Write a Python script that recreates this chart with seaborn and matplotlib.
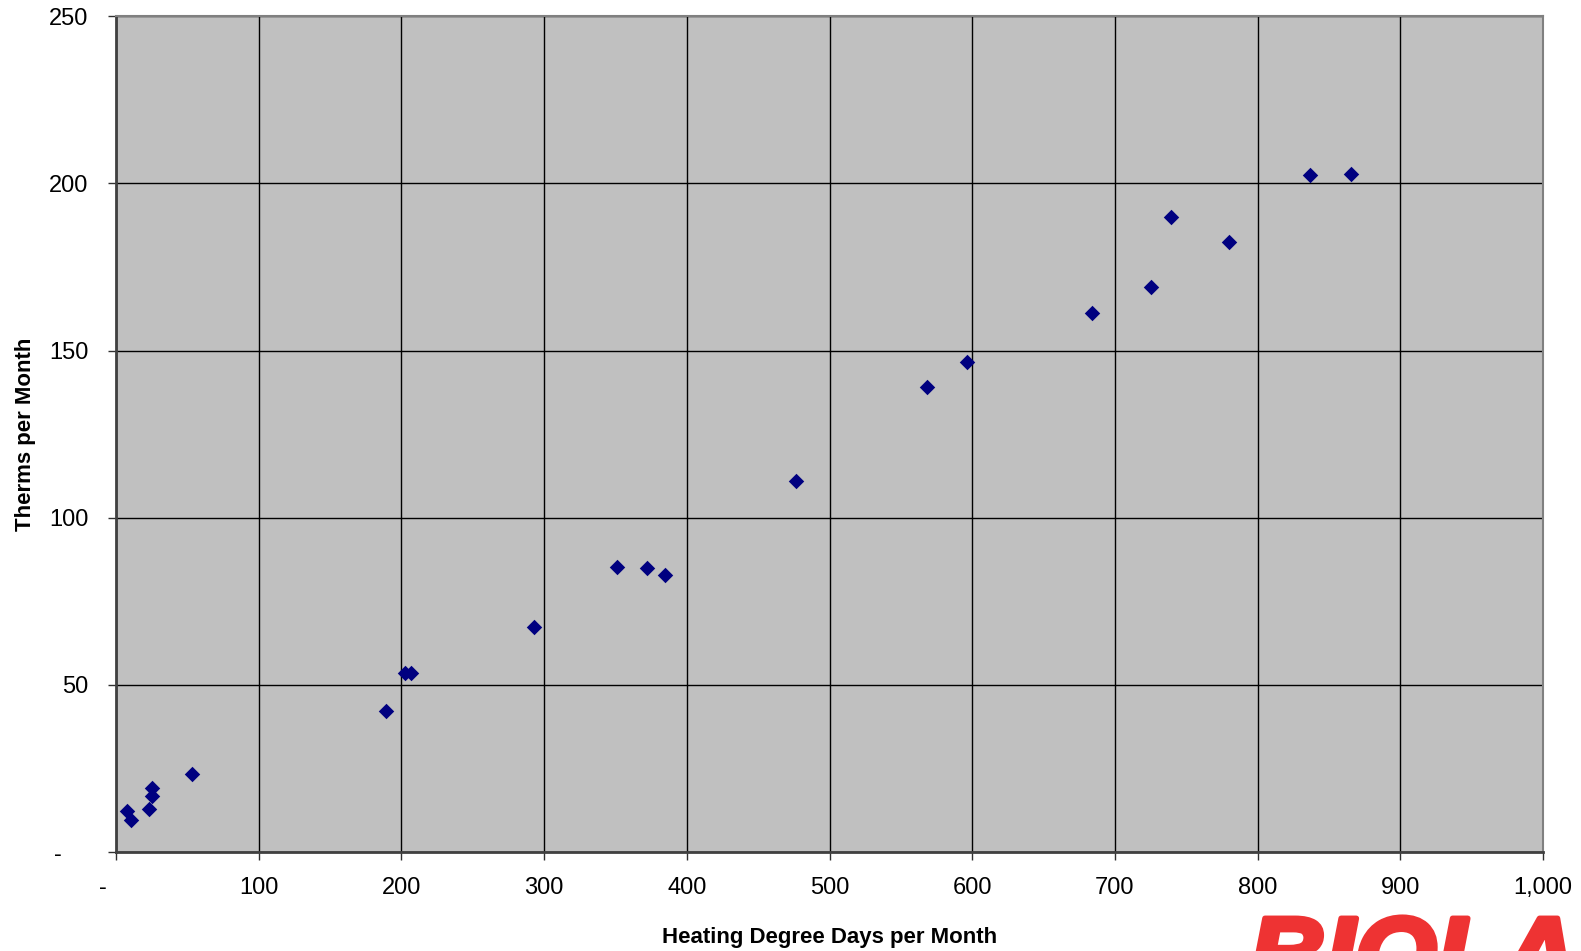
import matplotlib
matplotlib.use("Agg")
import matplotlib.pyplot as plt
import matplotlib.patheffects as pe
from matplotlib.ticker import FuncFormatter, MultipleLocator
import seaborn as sns
import pandas as pd

# heating degree days vs therms
hdd = [7.6, 10.5, 23.3, 25.4, 25.4, 52.9, 189.4, 202.8, 206.4, 292.6, 351.2, 372.4,
       384.5, 476.3, 568.2, 596.5, 684.1, 725.1, 739.2, 780.2, 836.7, 865.7]
therms = [12.3, 9.6, 12.9, 16.7, 19.2, 23.3, 42.2, 53.6, 53.6, 67.2, 85.2, 84.9,
          82.8, 111.1, 139.2, 146.7, 161.1, 169.0, 189.8, 182.5, 202.4, 202.7]

df = pd.DataFrame({"hdd": hdd, "therms": therms})

sns.set_style("whitegrid", {"axes.facecolor": "#C0C0C0", "grid.color": "black",
                            "text.color": "black", "xtick.color": "black",
                            "ytick.color": "black", "axes.labelcolor": "black"})
plt.rcParams['font.family'] = ['Liberation Sans', 'DejaVu Sans']

fig = plt.figure(figsize=(15.81, 9.51), dpi=100)
ax = fig.add_axes([0.0734, 0.104, 0.9026, 0.879])

sns.scatterplot(x="hdd", y="therms", data=df, ax=ax, marker="D", s=62,
                color="#000080", edgecolor="#000080", linewidth=0, zorder=3)

ax.set_xlim(0, 1000)
ax.set_ylim(0, 250)
ax.xaxis.set_major_locator(MultipleLocator(100))
ax.yaxis.set_major_locator(MultipleLocator(50))


def fmt_x(v, pos):
    if abs(v) < 1e-9:
        return "-    "
    return "{:,.0f}".format(v)


def fmt_y(v, pos):
    if abs(v) < 1e-9:
        return "-    "
    return "{:,.0f}".format(v)


ax.xaxis.set_major_formatter(FuncFormatter(fmt_x))
ax.yaxis.set_major_formatter(FuncFormatter(fmt_y))
ax.grid(True, color="black", linewidth=1.0)
ax.tick_params(axis="both", which="major", labelsize=17, length=6, width=1,
               color="#303030", labelcolor="black", pad=14, left=True, bottom=True,
               direction="out")
ax.tick_params(axis="x", pad=12)

for side in ["left", "bottom"]:
    ax.spines[side].set_color("#404040")
    ax.spines[side].set_linewidth(2)
for side in ["top", "right"]:
    ax.spines[side].set_color("#808080")
    ax.spines[side].set_linewidth(1.5)

ax.set_xlabel("Heating Degree Days per Month", fontsize=16, fontweight="bold", color="black")
ax.set_ylabel("Therms per Month", fontsize=16, fontweight="bold", color="black")
ax.xaxis.set_label_coords(0.5, -0.09)
ax.yaxis.set_label_coords(-0.056, 0.5)

# logo, cut off at bottom edge
fig.text(0.79, -0.042, "BIOLA", color="#EE3333", fontsize=76, fontweight="bold",
         fontstyle="italic", ha="left", va="baseline",
         path_effects=[pe.withStroke(linewidth=4, foreground="#EE3333")])

fig.savefig("out.png", dpi=100)
